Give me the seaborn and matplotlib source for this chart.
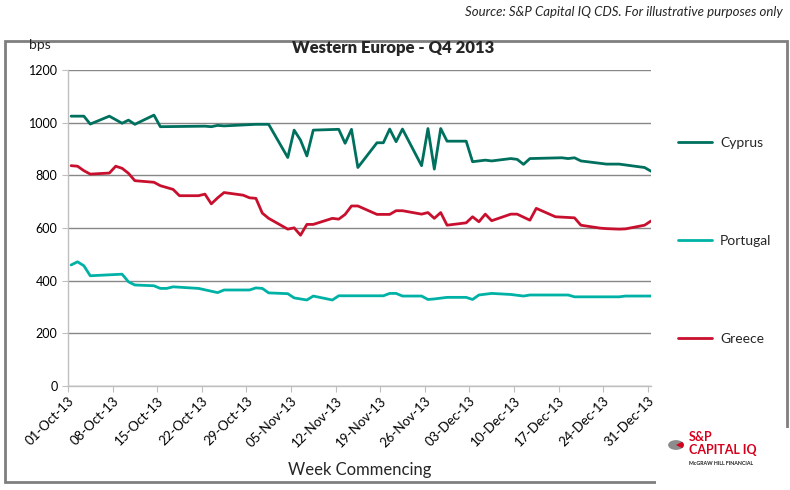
import matplotlib
matplotlib.use("Agg")
import matplotlib.pyplot as plt
import matplotlib.dates as mdates
import matplotlib.patches as mpatches
import numpy as np
import pandas as pd
import seaborn as sb

# CDS spreads (bps)
cyprus_dates = ["2013-10-01", "2013-10-03", "2013-10-04", "2013-10-07", "2013-10-09", "2013-10-10",
                "2013-10-11", "2013-10-14", "2013-10-15", "2013-10-22", "2013-10-23", "2013-10-24",
                "2013-10-25", "2013-10-30", "2013-11-01", "2013-11-04", "2013-11-05", "2013-11-06",
                "2013-11-07", "2013-11-08", "2013-11-12", "2013-11-13", "2013-11-14", "2013-11-15",
                "2013-11-18", "2013-11-19", "2013-11-20", "2013-11-21", "2013-11-22", "2013-11-25",
                "2013-11-26", "2013-11-27", "2013-11-28", "2013-11-29", "2013-12-02", "2013-12-03",
                "2013-12-05", "2013-12-06", "2013-12-09", "2013-12-10", "2013-12-11", "2013-12-12",
                "2013-12-17", "2013-12-18", "2013-12-19", "2013-12-20", "2013-12-24", "2013-12-26",
                "2013-12-30", "2013-12-31"]
cyprus = [1025, 1025, 995, 1025, 998, 1010,
          994, 1029, 985, 987, 985, 990,
          988, 994, 994, 868, 972, 934,
          874, 972, 975, 922, 975, 830,
          924, 924, 976, 928, 976, 837,
          978, 824, 978, 930, 930, 852,
          858, 855, 864, 861, 842, 864,
          867, 864, 867, 855, 843, 843,
          830, 816]

portugal_dates = ["2013-10-01", "2013-10-02", "2013-10-03", "2013-10-04", "2013-10-09", "2013-10-10",
                  "2013-10-11", "2013-10-14", "2013-10-15", "2013-10-16", "2013-10-17", "2013-10-21",
                  "2013-10-24", "2013-10-25", "2013-10-29", "2013-10-30", "2013-10-31", "2013-11-01",
                  "2013-11-04", "2013-11-05", "2013-11-07", "2013-11-08", "2013-11-11", "2013-11-12",
                  "2013-11-19", "2013-11-20", "2013-11-21", "2013-11-22", "2013-11-25", "2013-11-26",
                  "2013-11-27", "2013-11-29", "2013-12-02", "2013-12-03", "2013-12-04", "2013-12-06",
                  "2013-12-09", "2013-12-11", "2013-12-12", "2013-12-17", "2013-12-18", "2013-12-19",
                  "2013-12-26", "2013-12-27", "2013-12-31"]
portugal = [460, 472, 457, 419, 425, 396,
            384, 381, 371, 371, 377, 371,
            355, 365, 365, 373, 371, 354,
            351, 335, 327, 342, 327, 343,
            343, 352, 352, 342, 342, 329,
            331, 337, 337, 329, 346, 352,
            348, 342, 346, 346, 346, 339,
            339, 342, 342]

greece_dates = ["2013-10-01", "2013-10-02", "2013-10-03", "2013-10-04", "2013-10-07", "2013-10-08",
                "2013-10-09", "2013-10-10", "2013-10-11", "2013-10-14", "2013-10-15", "2013-10-17",
                "2013-10-18", "2013-10-21", "2013-10-22", "2013-10-23", "2013-10-24", "2013-10-25",
                "2013-10-28", "2013-10-29", "2013-10-30", "2013-10-31", "2013-11-01", "2013-11-04",
                "2013-11-05", "2013-11-06", "2013-11-07", "2013-11-08", "2013-11-11", "2013-11-12",
                "2013-11-13", "2013-11-14", "2013-11-15", "2013-11-18", "2013-11-20", "2013-11-21",
                "2013-11-22", "2013-11-25", "2013-11-26", "2013-11-27", "2013-11-28", "2013-11-29",
                "2013-12-02", "2013-12-03", "2013-12-04", "2013-12-05", "2013-12-06", "2013-12-09",
                "2013-12-10", "2013-12-12", "2013-12-13", "2013-12-16", "2013-12-19", "2013-12-20",
                "2013-12-23", "2013-12-24", "2013-12-26", "2013-12-27", "2013-12-30", "2013-12-31"]
greece = [837, 835, 818, 805, 809, 835,
          827, 808, 780, 774, 761, 747,
          723, 723, 729, 692, 715, 735,
          725, 715, 713, 657, 637, 596,
          601, 573, 614, 614, 637, 634,
          652, 684, 684, 652, 652, 666,
          666, 653, 659, 637, 659, 611,
          620, 643, 624, 653, 628, 653,
          653, 630, 675, 643, 639, 611,
          600, 598, 596, 597, 611, 627]

colors = {"Cyprus": "#00705E", "Portugal": "#00B2A5", "Greece": "#C8102E"}

sb.set_style("white")
plt.rcParams["font.family"] = ["Lato", "DejaVu Sans"]

fig = plt.figure(figsize=(7.9, 4.9), dpi=100)
ax = fig.add_axes([0.086, 0.212, 0.738, 0.645])

half_day = pd.Timedelta(hours=12)
for name, d, v in [("Cyprus", cyprus_dates, cyprus),
                   ("Portugal", portugal_dates, portugal),
                   ("Greece", greece_dates, greece)]:
    sb.lineplot(x=pd.to_datetime(d) + half_day, y=v, color=colors[name], lw=2.0,
                label=name, ax=ax)

ax.set_ylim(0, 1200)
ax.set_yticks(np.arange(0, 1201, 200))
ax.set_xlim(pd.Timestamp("2013-10-01"), pd.Timestamp("2013-12-31") + half_day)
ax.set_xticks(pd.date_range("2013-10-01", "2013-12-31", freq="7D"))
ax.xaxis.set_major_formatter(mdates.DateFormatter("%d-%b-%y"))
plt.setp(ax.get_xticklabels(), rotation=45, ha="right", rotation_mode="anchor", fontsize=9.5)
plt.setp(ax.get_yticklabels(), fontsize=9)
ax.grid(axis="y", color="#878787", lw=1)
ax.grid(axis="x", visible=False)
ax.set_axisbelow(True)
for s in ["top", "right"]:
    ax.spines[s].set_visible(False)
for s in ["left", "bottom"]:
    ax.spines[s].set_color("#BFBFBF")
    ax.spines[s].set_linewidth(1)
ax.tick_params(axis="both", which="major", length=4, color="#BFBFBF", direction="out",
               left=True, bottom=True, labelcolor="#000000")
ax.tick_params(axis="x", pad=2)
ax.set_xlabel("Week Commencing", fontsize=12, labelpad=9)
ax.set_ylabel("")

ax.legend().remove()
handles = [plt.Line2D([], [], color=colors[n], lw=2.0) for n in ["Cyprus", "Portugal", "Greece"]]
fig.legend(handles, ["Cyprus", "Portugal", "Greece"], loc="center left",
           bbox_to_anchor=(0.858, 0.508), bbox_transform=fig.transFigure,
           frameon=False, fontsize=10, handlelength=2.45, handletextpad=0.6,
           labelspacing=6.2, borderpad=0, borderaxespad=0)

fig.text(393 / 790, 1 - 48 / 490, "Western Europe - Q4 2013", ha="center", va="center",
         fontsize=12, fontweight="heavy")
fig.text(40 / 790, 1 - 45 / 490, "bps", ha="center", va="center", fontsize=10)
fig.text(783 / 790, 1 - 12 / 490, "Source: S&P Capital IQ CDS. For illustrative purposes only",
         ha="right", va="center", fontsize=9.5, style="italic", color="#262626")

# outer chart frame
fig.patches.append(mpatches.Rectangle((5 / 790, 1 - 482 / 490), 782 / 790, 441 / 490,
                                      fill=False, ec="#7F7F7F", lw=2, transform=fig.transFigure))
# logo block
fig.patches.append(mpatches.Rectangle((656 / 790, 0), 134 / 790, 62 / 490, fc="white",
                                      ec="none", transform=fig.transFigure, zorder=3))
fig.patches.append(mpatches.Circle((676 / 790, 1 - 445 / 490), 0.010, fc="#8C8C8C", ec="none",
                                   transform=fig.transFigure, zorder=4))
fig.patches.append(mpatches.Wedge((676 / 790, 1 - 445 / 490), 0.010, -40, 40, fc="#D6001C",
                                  ec="none", transform=fig.transFigure, zorder=5))
fig.text(689 / 790, 1 - 437 / 490, "S&P", color="#D6001C", fontsize=9, fontweight="bold",
         va="center", ha="left", zorder=6)
fig.text(689 / 790, 1 - 450 / 490, "CAPITAL IQ", color="#D6001C", fontsize=9, fontweight="bold",
         va="center", ha="left", zorder=6)
fig.text(689 / 790, 1 - 463 / 490, "McGRAW HILL FINANCIAL", color="#222222", fontsize=3.8,
         fontweight="bold", va="center", ha="left", zorder=6)

fig.savefig("out.png", dpi=100)
